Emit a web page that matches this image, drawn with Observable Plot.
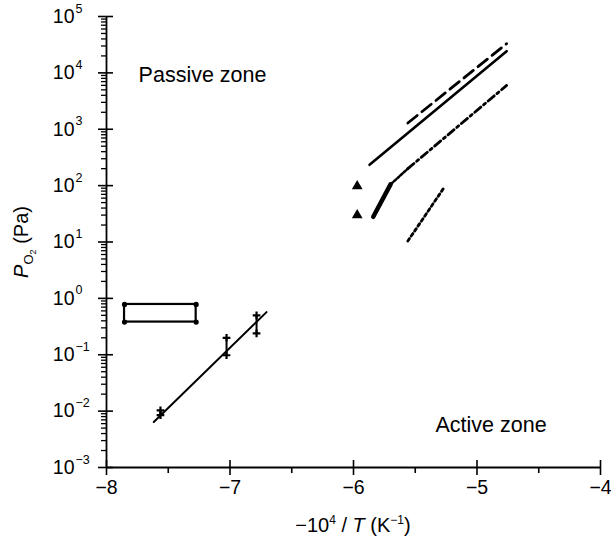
<!DOCTYPE html>
<html><head><meta charset="utf-8">
<script src="https://cdn.jsdelivr.net/npm/d3@7"></script>
<script src="https://cdn.jsdelivr.net/npm/@observablehq/plot@0.6"></script>
<style>body{margin:0;background:#fff} svg{display:block;font-family:"Liberation Sans",Arial,sans-serif}</style>
</head><body><div id="chart"></div>
<script>
// Axis ticks
const xTicks = [-8, -7, -6, -5, -4];
const xMinorTicks = [-7.5, -6.5, -5.5, -4.5];
const yExponents = [-3, -2, -1, 0, 1, 2, 3, 4, 5];
const yMinorMultipliers = [2, 3, 4, 5, 6, 7, 8, 9];

// Series (x = -10^4/T, y = P_O2 in Pa)
const solidLine = [{x: -5.87, y: 234}, {x: -4.76, y: 24300}];
const dashedLine = [{x: -5.56, y: 1290}, {x: -4.76, y: 33000}];
const dashDotLine = [{x: -5.56, y: 200}, {x: -4.76, y: 6000}];
const dotLink = [{x: -5.70, y: 105}, {x: -5.56, y: 200}];
const thickLine = [{x: -5.84, y: 28}, {x: -5.70, y: 105}];
const dottedLine = [{x: -5.56, y: 10.4}, {x: -5.27, y: 90}];
const triangles = [{x: -5.97, y: 98}, {x: -5.97, y: 30}];
const boxX = [-7.854, -7.274];
const boxY = [0.38, 0.78];
const fitLine = [{x: -7.617, y: 0.0064}, {x: -6.704, y: 0.57}];
const errorBars = [
  {x: -7.563, lo: 0.0085, hi: 0.0103},
  {x: -7.028, lo: 0.098, hi: 0.2},
  {x: -6.785, lo: 0.24, hi: 0.5}
];
const zoneLabels = [
  {label: "Passive zone", x: -7.74, y: 7000},
  {label: "Active zone", x: -5.336, y: 0.0042}
];

const yMajor = yExponents.map(e => 10 ** e);
const yMinor = yExponents.slice(0, -1).flatMap(e => yMinorMultipliers.map(m => m * 10 ** e));
const boxCorners = boxX.flatMap(x => boxY.map(y => ({x, y})));
const barEnds = errorBars.flatMap(d => [{x: d.x, y: d.lo}, {x: d.x, y: d.hi}]);
const fmt = d3.format("d");
const font = "Liberation Sans, Arial, sans-serif";

const svg = Plot.plot({
  width: 611,
  height: 545,
  marginLeft: 106,
  marginRight: 11,
  marginTop: 16,
  marginBottom: 78,
  style: {fontFamily: font, background: "#fff", color: "#000"},
  x: {domain: [-8, -4], axis: null},
  y: {type: "log", domain: [1e-3, 1e5], axis: null},
  marks: [
    Plot.ruleX([-8], {stroke: "#000", strokeWidth: 1.8}),
    Plot.ruleY([1e-3], {stroke: "#000", strokeWidth: 1.8}),
    Plot.axisY(yMajor, {anchor: "left", tickSize: 15, dx: 7, text: null, label: null, strokeWidth: 1.6}),
    Plot.axisY(yMinor, {anchor: "left", tickSize: 5, text: null, label: null, strokeWidth: 1.3}),
    Plot.axisX(xTicks, {anchor: "bottom", tickSize: 15, dy: -7, text: null, label: null, strokeWidth: 1.6}),
    Plot.axisX(xMinorTicks, {anchor: "bottom", tickSize: 6, text: null, label: null, strokeWidth: 1.6}),
    Plot.text(yExponents, {frameAnchor: "left", y: d => 10 ** d, text: () => "10", textAnchor: "end", dx: -32, fontSize: 19.5, fill: "#000"}),
    Plot.text(yExponents, {frameAnchor: "left", y: d => 10 ** d, text: d => fmt(d), textAnchor: "start", dx: -31, dy: -8, fontSize: 12.5, fill: "#000"}),
    Plot.text(xTicks, {x: d => d, frameAnchor: "bottom", dy: 26, text: d => fmt(d), fontSize: 19.5, fill: "#000"}),
    Plot.text(zoneLabels, {x: "x", y: "y", text: "label", textAnchor: "start", lineAnchor: "bottom", fontSize: 21.5, fill: "#000"}),
    Plot.line(solidLine, {x: "x", y: "y", stroke: "#000", strokeWidth: 2.6}),
    Plot.line(dashedLine, {x: "x", y: "y", stroke: "#000", strokeWidth: 2.8, strokeDasharray: "12,6"}),
    Plot.line(dashDotLine, {x: "x", y: "y", stroke: "#000", strokeWidth: 2.8, strokeDasharray: "8,3.5,2.5,3.5"}),
    Plot.line(dotLink, {x: "x", y: "y", stroke: "#000", strokeWidth: 2.6, strokeDasharray: "2.5,2"}),
    Plot.line(thickLine, {x: "x", y: "y", stroke: "#000", strokeWidth: 4.5}),
    Plot.line(dottedLine, {x: "x", y: "y", stroke: "#000", strokeWidth: 2.8, strokeDasharray: "3,3"}),
    Plot.dot(triangles, {x: "x", y: "y", symbol: "triangle", r: 4, fill: "#000"}),
    Plot.rect([0], {x1: boxX[0], x2: boxX[1], y1: boxY[0], y2: boxY[1], fill: "none", stroke: "#000", strokeWidth: 2.2}),
    Plot.dot(boxCorners, {x: "x", y: "y", r: 2.6, fill: "#000"}),
    Plot.line(fitLine, {x: "x", y: "y", stroke: "#000", strokeWidth: 2}),
    Plot.ruleX(errorBars, {x: "x", y1: "lo", y2: "hi", stroke: "#000", strokeWidth: 2}),
    Plot.dot(barEnds, {x: "x", y: "y", symbol: "plus", r: 2.6, stroke: "#000", strokeWidth: 2.2})
  ]
});

const s = d3.select(svg);
// y axis label
const yl = s.append("text")
  .attr("transform", "translate(28,242) rotate(-90)")
  .attr("text-anchor", "middle")
  .attr("font-size", 20)
  .attr("fill", "#000");
yl.append("tspan").attr("font-style", "italic").text("P");
yl.append("tspan").attr("font-size", 13).attr("dy", 5).text("O");
yl.append("tspan").attr("font-size", 9).attr("dy", 3).text("2");
yl.append("tspan").attr("dy", -8).text(" (Pa)");
// x axis label
const xl = s.append("text")
  .attr("x", 353).attr("y", 532)
  .attr("text-anchor", "middle")
  .attr("font-size", 20)
  .attr("fill", "#000");
xl.append("tspan").text("\u221210");
xl.append("tspan").attr("font-size", 12).attr("dy", -8).text("4");
xl.append("tspan").attr("dy", 8).text(" / ");
xl.append("tspan").attr("font-style", "italic").text("T");
xl.append("tspan").text(" (K");
xl.append("tspan").attr("font-size", 12).attr("dy", -8).text("\u22121");
xl.append("tspan").attr("dy", 8).text(")");

document.getElementById("chart").appendChild(svg);
</script>
</body></html>
